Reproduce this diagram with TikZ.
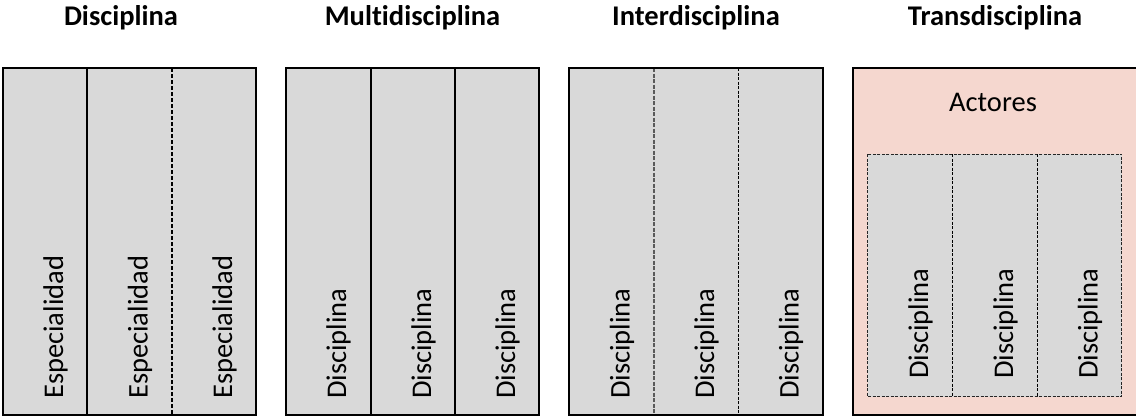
\documentclass[tikz,border=0pt]{standalone}
\usepackage{fontspec}
\setmainfont[RawFeature=-liga]{Carlito}
\definecolor{cellgray}{RGB}{217,217,217}
\definecolor{actpink}{RGB}{245,215,207}
\definecolor{divgray}{RGB}{90,90,90}
\begin{document}
\begin{tikzpicture}[x=1bp,y=-1bp,
  title/.style={font=\fontsize{28.5bp}{34bp}\selectfont\bfseries, anchor=base, inner sep=0pt},
  vlabel/.style={font=\fontsize{28.5bp}{34bp}\selectfont, rotate=90, anchor=base west, inner sep=0pt},
  hlabel/.style={font=\fontsize{28.5bp}{34bp}\selectfont, anchor=base, inner sep=0pt},
  panel/.style={fill=cellgray, draw=black, line width=2bp},
  soliddiv/.style={draw=black, line width=2bp},
  dashdiv/.style={draw=black, line width=2bp, dash pattern=on 4bp off 2bp},
  graydiv/.style={draw=divgray, line width=1.6bp, dash pattern=on 4bp off 1.5bp},
  thindiv/.style={draw=black, line width=1bp, dash pattern=on 3bp off 1.5bp},
  actbox/.style={fill=actpink, draw=black, line width=1.6bp},
  innerbox/.style={fill=cellgray, draw=black!85, line width=1bp, dash pattern=on 3bp off 1.5bp}
]
\useasboundingbox (0,0) rectangle (1136,416);

% titles
\node[title] (t1) at (121,25) {Disciplina};
\node[title] (t2) at (412.5,25) {Multidisciplina};
\node[title] (t3) at (696,25) {Interdisciplina};
\node[title] (t4) at (995,25) {Transdisciplina};

% panel 1: Disciplina
\fill[cellgray] (3,68) rectangle (256,415);
\draw[soliddiv] (87,68) -- (87,415);
\draw[dashdiv] (172,68) -- (172,415);
\draw[panel, fill=none] (3,68) rectangle (256,415);
\node[vlabel] (e1) at (63,399) {Especialidad};
\node[vlabel] (e2) at (147.5,399) {Especialidad};
\node[vlabel] (e3) at (232,399) {Especialidad};

% panel 2: Multidisciplina
\fill[cellgray] (285.5,68) rectangle (539,415);
\draw[soliddiv] (370.7,68) -- (370.7,415);
\draw[soliddiv] (455,68) -- (455,415);
\draw[panel, fill=none] (285.5,68) rectangle (539,415);
\node[vlabel] (m1) at (346,399) {Disciplina};
\node[vlabel] (m2) at (431,399) {Disciplina};
\node[vlabel] (m3) at (515,399) {Disciplina};

% panel 3: Interdisciplina
\fill[cellgray] (569,68) rectangle (823,415);
\draw[graydiv] (654,68) -- (654,415);
\draw[thindiv] (738,68) -- (738,415);
\draw[panel, fill=none] (569,68) rectangle (823,415);
\node[vlabel] (i1) at (629.5,399) {Disciplina};
\node[vlabel] (i2) at (714,399) {Disciplina};
\node[vlabel] (i3) at (798.5,399) {Disciplina};

% panel 4: Transdisciplina
\draw[actbox] (853,68) rectangle (1140,415);
\node[hlabel] (act) at (993,111.7) {Actores};
\draw[innerbox] (867.7,154) rectangle (1121.7,396.7);
\draw[thindiv] (952.7,154) -- (952.7,396.7);
\draw[thindiv] (1037,154) -- (1037,396.7);
\node[vlabel] (d1) at (928,379) {Disciplina};
\node[vlabel] (d2) at (1013,379) {Disciplina};
\node[vlabel] (d3) at (1097.5,379) {Disciplina};
\end{tikzpicture}
\end{document}
